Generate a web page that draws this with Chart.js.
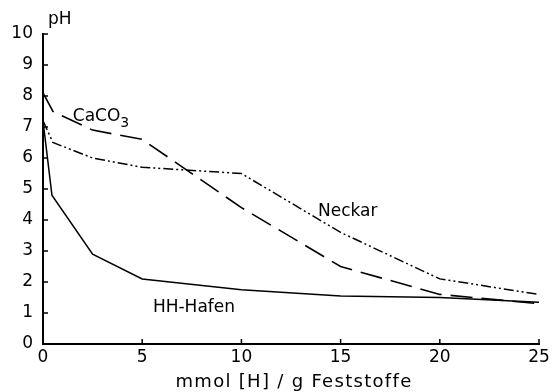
<!DOCTYPE html>
<html>
<head>
<meta charset="utf-8">
<script src="https://cdn.jsdelivr.net/npm/chart.js@4/dist/chart.umd.min.js"></script>
<style>
  html, body { margin: 0; padding: 0; background: #fff; }
  #wrap { width: 559px; height: 392px; }
</style>
</head>
<body>
<div id="wrap"><canvas id="phChart"></canvas></div>
<script>
// mmol [H] / g Feststoffe
const xCaCO3 = [0, 0.5, 2.5, 5, 10, 15, 20, 25];
const phCaCO3 = [8.1, 7.5, 6.9, 6.6, 4.4, 2.5, 1.6, 1.3];

const xNeckar = [0, 0.5, 2.5, 5, 10, 15, 20, 25];
const phNeckar = [7.2, 6.5, 6.0, 5.7, 5.5, 3.6, 2.1, 1.6];

const xHafen = [0, 0.45, 2.5, 5, 10, 15, 20, 25];
const phHafen = [7.2, 4.8, 2.9, 2.1, 1.75, 1.55, 1.5, 1.35];

const xTicks = [0, 5, 10, 15, 20, 25];
const yTicks = [0, 1, 2, 3, 4, 5, 6, 7, 8, 9, 10];

const fontFam = '"DejaVu Sans", sans-serif';

function toPoints(xs, ys) {
    return xs.map((x, i) => ({ x: x, y: ys[i] }));
}

// tick marks pointing into the plot, the curve labels and the axis title
const annotate = {
    id: 'annotate',
    afterDraw(chart) {
        const c = chart.ctx;
        const xs = chart.scales.x, ys = chart.scales.y;
        c.save();
        c.strokeStyle = '#000';
        c.lineWidth = 1.5;
        c.beginPath();
        yTicks.forEach(v => {
            const py = ys.getPixelForValue(v);
            c.moveTo(xs.left, py);
            c.lineTo(xs.left + 5, py);
        });
        xTicks.forEach(v => {
            const px = xs.getPixelForValue(v);
            c.moveTo(px, ys.bottom);
            c.lineTo(px, ys.bottom - 5);
        });
        c.stroke();

        c.fillStyle = '#000';
        c.font = '17px ' + fontFam;
        c.textBaseline = 'alphabetic';
        c.fillText('pH', 48, 24);
        c.fillText('Neckar', xs.getPixelForValue(13.86), ys.getPixelForValue(4.14));
        c.fillText('HH-Hafen', xs.getPixelForValue(5.54), ys.getPixelForValue(1.04));
        const cx = xs.getPixelForValue(1.5), cy = ys.getPixelForValue(7.18);
        c.fillText('CaCO', cx, cy);
        const w = c.measureText('CaCO').width;
        c.font = '14px ' + fontFam;
        c.fillText('3', cx + w, cy + 6);

        c.font = '18px ' + fontFam;
        c.letterSpacing = '1.3px';
        c.textAlign = 'center';
        c.fillText('mmol [H] / g Feststoffe', 294, 387);
        c.restore();
    }
};

const ctx = document.getElementById('phChart').getContext('2d');
new Chart(ctx, {
    type: 'line',
    data: {
        datasets: [
            {
                label: 'CaCO3',
                data: toPoints(xCaCO3, phCaCO3),
                borderColor: '#000',
                borderWidth: 1.6,
                borderDash: [22, 9],
                pointRadius: 0,
                fill: false
            },
            {
                label: 'Neckar',
                data: toPoints(xNeckar, phNeckar),
                borderColor: '#000',
                borderWidth: 1.5,
                borderDash: [10, 3, 2, 3, 2, 3],
                pointRadius: 0,
                fill: false
            },
            {
                label: 'HH-Hafen',
                data: toPoints(xHafen, phHafen),
                borderColor: '#000',
                borderWidth: 1.5,
                pointRadius: 0,
                fill: false
            }
        ]
    },
    options: {
        responsive: true,
        maintainAspectRatio: false,
        animation: false,
        layout: { padding: { top: 34, right: 20, left: 0, bottom: 0 } },
        plugins: {
            legend: { display: false },
            tooltip: { enabled: false }
        },
        scales: {
            x: {
                type: 'linear',
                min: 0,
                max: 25,
                afterBuildTicks: s => { s.ticks = xTicks.map(v => ({ value: v })); },
                afterFit: s => { s.height = 48; },
                border: { display: true, color: '#000', width: 2 },
                grid: { display: true, drawOnChartArea: false, drawTicks: false },
                ticks: {
                    color: '#000',
                    padding: 3,
                    maxRotation: 0,
                    font: { family: fontFam, size: 17 }
                }
            },
            y: {
                type: 'linear',
                min: 0,
                max: 10,
                afterBuildTicks: s => { s.ticks = yTicks.map(v => ({ value: v })); },
                afterFit: s => { s.width = 43; },
                border: { display: true, color: '#000', width: 2 },
                grid: { display: true, drawOnChartArea: false, drawTicks: false },
                ticks: {
                    color: '#000',
                    padding: 10,
                    font: { family: fontFam, size: 17 }
                }
            }
        }
    },
    plugins: [annotate]
});
</script>
</body>
</html>
